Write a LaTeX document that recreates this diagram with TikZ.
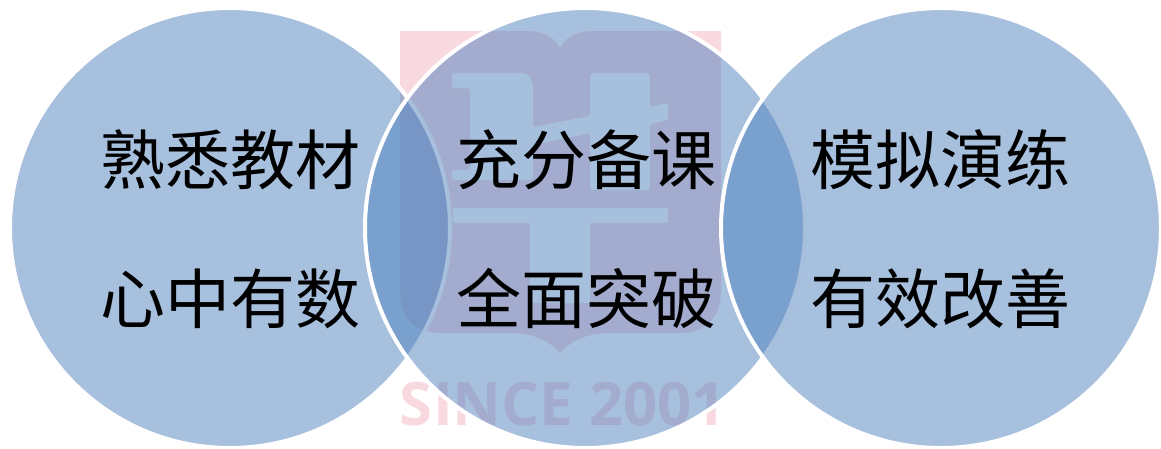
\documentclass[tikz,border=0pt]{standalone}
\usepackage{fontspec}
\newfontfamily\cjk{Noto Sans CJK SC}
\newfontfamily\wm{Open Sans}
\definecolor{wmpink}{HTML}{F9D9E0}
\definecolor{circblue}{HTML}{4F81BD}
\tikzset{
  venn/.style={draw=white,line width=4pt,fill=circblue,fill opacity=.5,draw opacity=1},
  cut/.style={fill=white,draw=none},
  lbl/.style={font=\cjk\fontsize{65}{66}\selectfont,text=black,inner sep=0pt,anchor=center}
}
\begin{document}
\begin{tikzpicture}[x=1pt,y=-1pt]
\useasboundingbox (0,0) rectangle (1161,448);
% watermark book
\fill[wmpink] (400,31) -- (527,31) .. controls (545,31) and (555,38) .. (560,48)
  .. controls (565,38) and (575,31) .. (592,31) -- (721,31) -- (721,290)
  .. controls (721,318) and (705,333) .. (680,333) -- (610,333)
  .. controls (585,333) and (570,342) .. (560,353)
  .. controls (550,342) and (535,333) .. (510,333) -- (440,333)
  .. controls (415,333) and (400,318) .. (400,290) -- cycle;
% watermark glyph
\fill[cut,rounded corners=3pt] (452,73) -- (520,73) .. controls (528,73) and (533,80) .. (533,90)
  -- (533,127) -- (590,116) -- (590,73) -- (650,73) -- (650,107) -- (668,103) -- (668,120)
  -- (650,124) -- (650,190) -- (590,190) -- (590,133) -- (533,145) -- (533,180)
  -- (452,180) -- (452,170) -- (470,170) -- (470,88) -- (452,88) -- cycle;
\fill[cut,rounded corners=2pt] (453,208) -- (668,208) -- (668,223) -- (590,223) -- (590,303)
  -- (530,303) -- (530,223) -- (453,223) -- cycle;
\node[font=\wm\bfseries\fontsize{60}{61}\selectfont,text=wmpink,inner sep=0pt,anchor=center] (since) at (563,404) {SINCE 2001};
% circles
\draw[venn] (230,228) circle[radius=220];
\draw[venn] (585,228) circle[radius=220];
\draw[venn] (941,228) circle[radius=220];
% labels
\node[lbl] (a1) at (230.5,167) {\strut 熟悉教材};
\node[lbl] (a2) at (230.5,306) {\strut 心中有数};
\node[lbl] (b1) at (586,167) {\strut 充分备课};
\node[lbl] (b2) at (586,306) {\strut 全面突破};
\node[lbl] (c1) at (940,167) {\strut 模拟演练};
\node[lbl] (c2) at (940,306) {\strut 有效改善};
\end{tikzpicture}
\end{document}
